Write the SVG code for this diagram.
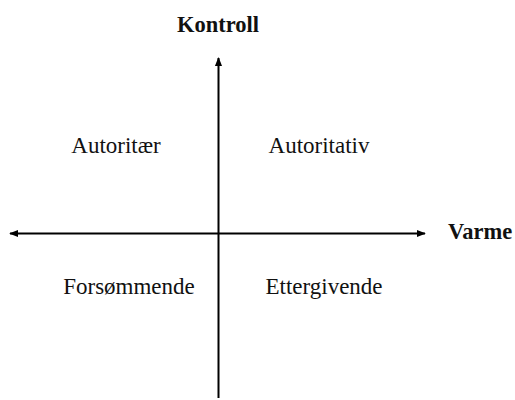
<svg xmlns="http://www.w3.org/2000/svg" width="515" height="400" viewBox="0 0 515 400">
<style>
.lbl{font-family:"Liberation Serif","Times New Roman",serif;font-size:23px;fill:#111}
.ttl{font-family:"Liberation Serif","Times New Roman",serif;font-size:22.5px;font-weight:bold;fill:#111}
.ax{stroke:#000;stroke-width:2;fill:none}
</style>
<defs>
<marker id="ah" viewBox="0 0 10 10" refX="9" refY="5" markerWidth="4.5" markerHeight="4.5" orient="auto-start-reverse" markerUnits="strokeWidth">
<path d="M0,1 L10,5 L0,9 z" fill="#000"/>
</marker>
</defs>
<rect width="515" height="400" fill="#fff"/>
<g id="connectors">
<line class="ax" x1="218.5" y1="398" x2="218.5" y2="58" marker-end="url(#ah)"/>
<line class="ax" x1="10" y1="233.5" x2="425" y2="233.5" marker-start="url(#ah)" marker-end="url(#ah)"/>
</g>
<g id="kontroll"><text class="ttl" x="218" y="32" text-anchor="middle">Kontroll</text></g>
<g id="varme"><text class="ttl" x="448" y="239">Varme</text></g>
<g id="autoritaer"><text class="lbl" x="116" y="153" text-anchor="middle">Autoritær</text></g>
<g id="autoritativ"><text class="lbl" x="319" y="153" text-anchor="middle">Autoritativ</text></g>
<g id="forsommende"><text class="lbl" x="129" y="294" text-anchor="middle">Forsømmende</text></g>
<g id="ettergivende"><text class="lbl" x="324" y="294" text-anchor="middle">Ettergivende</text></g>
</svg>
